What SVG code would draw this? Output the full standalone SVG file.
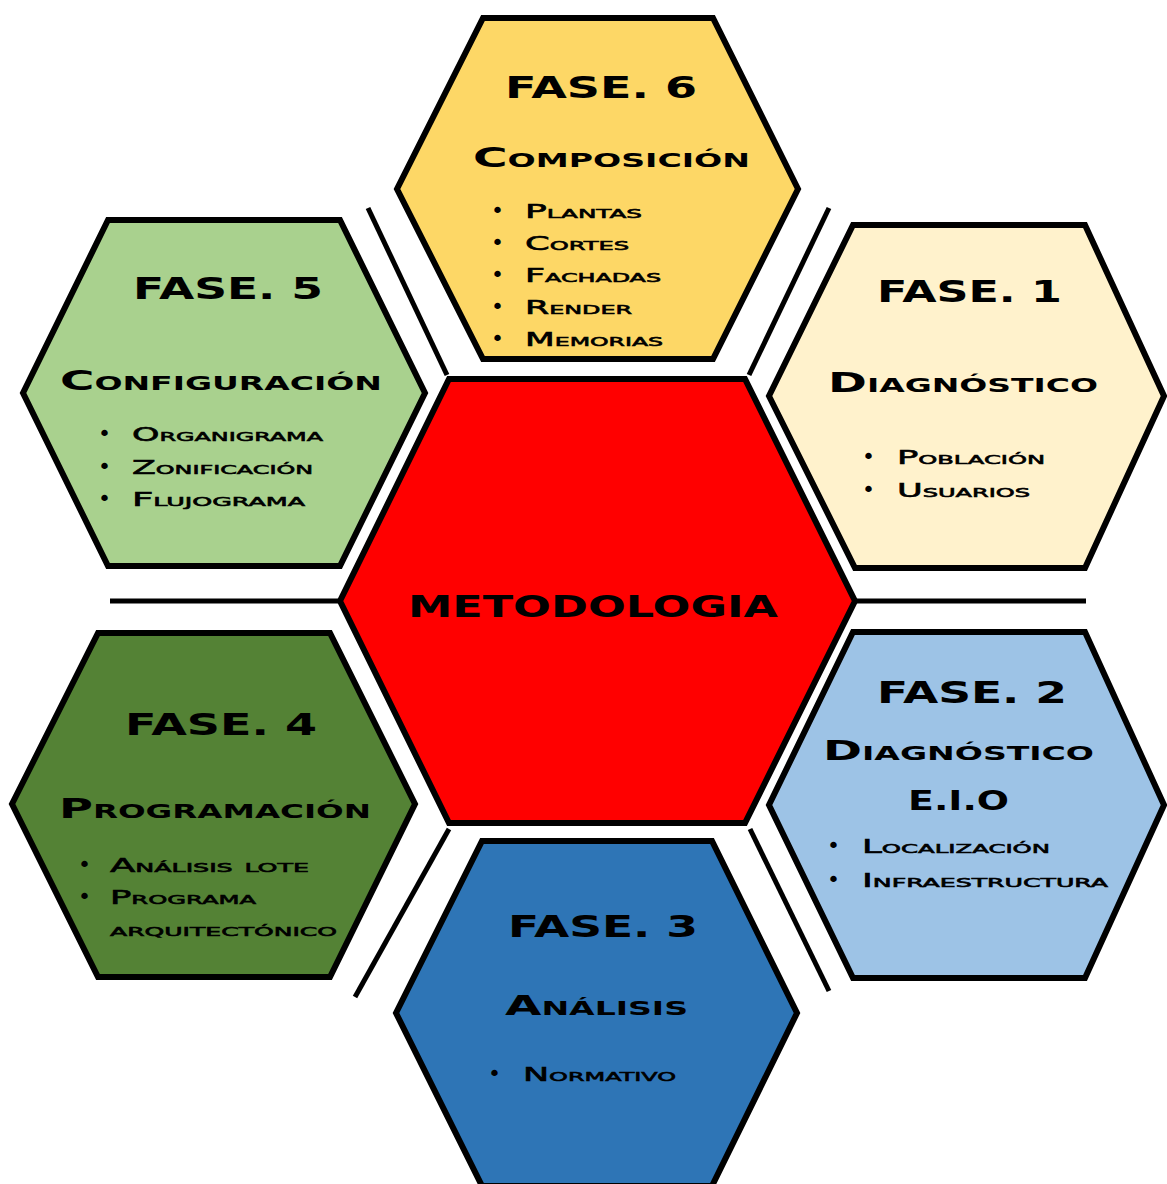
<svg xmlns="http://www.w3.org/2000/svg" width="1167" height="1184" viewBox="0 0 1167 1184">
<style>
.hex{stroke:#000;stroke-width:6;stroke-linejoin:miter}
.sep{stroke:#000;stroke-width:5;fill:none}
text{font-family:"DejaVu Sans","Liberation Sans",sans-serif;fill:#000}
.h{font-weight:bold;font-size:31px}
.t{font-weight:bold;font-size:27px;font-variant:small-caps}
.i{font-size:19px;font-variant:small-caps;stroke:#000;stroke-width:0.6}
.b{font-size:22px}
.m{font-weight:bold;font-size:31px}
</style>
<rect width="1167" height="1184" fill="#fff"/>
<g id="connectors">
<line class="sep" x1="110" y1="601" x2="340" y2="601"/>
<line class="sep" x1="855" y1="601" x2="1086" y2="601"/>
<line class="sep" x1="368" y1="208" x2="447" y2="375"/>
<line class="sep" x1="829" y1="208" x2="749" y2="375"/>
<line class="sep" x1="449" y1="829" x2="355" y2="997"/>
<line class="sep" x1="750" y1="829" x2="829" y2="991"/>
</g>
<g id="center">
<polygon class="hex" fill="#ff0000" points="449,379 745,379 855,601 745,823 449,823 340,601"/>
<text class="m" x="408" y="617" textLength="370" lengthAdjust="spacingAndGlyphs">METODOLOGIA</text>
</g>
<g id="fase6">
<polygon class="hex" fill="#fdd766" points="483,18 713,18 798,189 713,359 483,359 397,189"/>
<text class="h" x="505" y="98" textLength="192" lengthAdjust="spacingAndGlyphs">FASE. 6</text>
<text class="t" x="473" y="167" textLength="277" lengthAdjust="spacingAndGlyphs">Composición</text>
<text class="b" x="491" y="218">•</text>
<text class="i" x="525" y="218" textLength="117" lengthAdjust="spacingAndGlyphs">Plantas</text>
<text class="b" x="491" y="250">•</text>
<text class="i" x="525" y="250" textLength="104" lengthAdjust="spacingAndGlyphs">Cortes</text>
<text class="b" x="491" y="282">•</text>
<text class="i" x="525" y="282" textLength="136" lengthAdjust="spacingAndGlyphs">Fachadas</text>
<text class="b" x="491" y="314">•</text>
<text class="i" x="525" y="314" textLength="107" lengthAdjust="spacingAndGlyphs">Render</text>
<text class="b" x="491" y="346">•</text>
<text class="i" x="525" y="346" textLength="138" lengthAdjust="spacingAndGlyphs">Memorias</text>
</g>
<g id="fase1">
<polygon class="hex" fill="#fff2cc" points="853,225 1085,225 1164,396 1085,568 855,568 769,396"/>
<text class="h" x="877" y="302" textLength="185" lengthAdjust="spacingAndGlyphs">FASE. 1</text>
<text class="t" x="828" y="392" textLength="270" lengthAdjust="spacingAndGlyphs">Diagnóstico</text>
<text class="b" x="862" y="464">•</text>
<text class="i" x="897" y="464" textLength="148" lengthAdjust="spacingAndGlyphs">Población</text>
<text class="b" x="862" y="497">•</text>
<text class="i" x="897" y="497" textLength="133" lengthAdjust="spacingAndGlyphs">Usuarios</text>
</g>
<g id="fase5">
<polygon class="hex" fill="#a9d18e" points="108,220 340,220 425,393 340,566 108,566 23,393"/>
<text class="h" x="133" y="299" textLength="190" lengthAdjust="spacingAndGlyphs">FASE. 5</text>
<text class="t" x="60" y="390" textLength="322" lengthAdjust="spacingAndGlyphs">Configuración</text>
<text class="b" x="98" y="441">•</text>
<text class="i" x="132" y="441" textLength="191" lengthAdjust="spacingAndGlyphs">Organigrama</text>
<text class="b" x="98" y="474">•</text>
<text class="i" x="132" y="474" textLength="181" lengthAdjust="spacingAndGlyphs">Zonificación</text>
<text class="b" x="98" y="506">•</text>
<text class="i" x="132" y="506" textLength="173" lengthAdjust="spacingAndGlyphs">Flujograma</text>
</g>
<g id="fase4">
<polygon class="hex" fill="#548235" points="98,633 330,633 415,804 330,977 98,977 12,804"/>
<text class="h" x="125" y="735" textLength="192" lengthAdjust="spacingAndGlyphs">FASE. 4</text>
<text class="t" x="59" y="818" textLength="312" lengthAdjust="spacingAndGlyphs">Programación</text>
<text class="b" x="78" y="872">•</text>
<text class="i" x="110" y="872" textLength="199" lengthAdjust="spacingAndGlyphs">Análisis lote</text>
<text class="b" x="78" y="904">•</text>
<text class="i" x="110" y="904" textLength="146" lengthAdjust="spacingAndGlyphs">Programa</text>
<text class="i" x="110" y="936" textLength="227" lengthAdjust="spacingAndGlyphs">arquitectónico</text>
</g>
<g id="fase2">
<polygon class="hex" fill="#9dc3e6" points="853,632 1085,632 1164,805 1085,978 853,978 769,805"/>
<text class="h" x="877" y="703" textLength="190" lengthAdjust="spacingAndGlyphs">FASE. 2</text>
<text class="t" x="823" y="760" textLength="271" lengthAdjust="spacingAndGlyphs">Diagnóstico</text>
<text class="t" x="908" y="810" textLength="101" lengthAdjust="spacingAndGlyphs">E.I.O</text>
<text class="b" x="827" y="853">•</text>
<text class="i" x="862" y="853" textLength="188" lengthAdjust="spacingAndGlyphs">Localización</text>
<text class="b" x="827" y="887">•</text>
<text class="i" x="862" y="887" textLength="246" lengthAdjust="spacingAndGlyphs">Infraestructura</text>
</g>
<g id="fase3">
<polygon class="hex" fill="#2e75b6" points="482,841 712,841 797,1013 712,1186 482,1186 396,1013"/>
<text class="h" x="508" y="937" textLength="190" lengthAdjust="spacingAndGlyphs">FASE. 3</text>
<text class="t" x="505" y="1015" textLength="183" lengthAdjust="spacingAndGlyphs">Análisis</text>
<text class="b" x="488" y="1081">•</text>
<text class="i" x="523" y="1081" textLength="153" lengthAdjust="spacingAndGlyphs">Normativo</text>
</g>
</svg>
